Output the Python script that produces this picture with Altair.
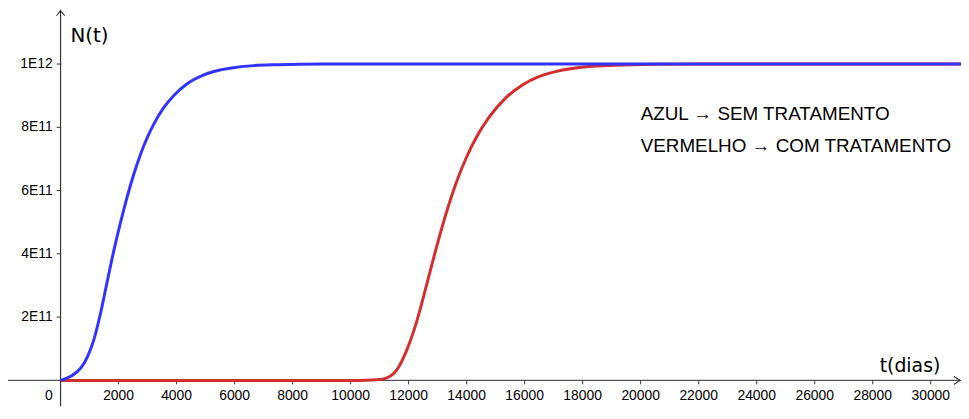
import altair as alt
import pandas as pd

# ---- data (N in units of 1e12) ----
blue_t = [0, 365, 707, 934, 1162, 1390, 1618, 1846, 2074, 2302, 2530, 2758, 2986,
          3214, 3556, 3897, 4353, 4923, 5494, 6063, 6632, 7500, 9000, 31043]
blue_n = [0, 0.0136, 0.040, 0.076, 0.133, 0.217, 0.317, 0.414, 0.502, 0.582, 0.653,
          0.715, 0.767, 0.810, 0.862, 0.900, 0.937, 0.965, 0.981, 0.990, 0.995,
          0.998, 1.0, 1.0]

red_t = [0, 10222, 10906, 11248, 11590, 11932, 12274, 12615, 12957, 13299, 13641,
         13983, 14325, 14781, 15350, 15921, 16490, 17060, 17630, 18199, 19111,
         20500, 22000, 31043]
red_n = [0, 0, 0.002, 0.008, 0.033, 0.095, 0.185, 0.300, 0.420, 0.530, 0.625, 0.703,
         0.767, 0.833, 0.893, 0.934, 0.960, 0.976, 0.986, 0.992, 0.996, 0.999, 1.0, 1.0]

x_ticks = [2000, 4000, 6000, 8000, 10000, 12000, 14000, 16000, 18000, 20000,
           22000, 24000, 26000, 28000, 30000]
x_labels = [str(v) for v in x_ticks]
y_ticks = [2e11, 4e11, 6e11, 8e11, 1e12]
y_labels = ["2E11", "4E11", "6E11", "8E11", "1E12"]

legend_lines = ["AZUL \u2192 SEM TRATAMENTO", "VERMELHO \u2192 COM TRATAMENTO"]

# ---- view window ----
W, H = 961, 400
T0, T1 = -1812, 31043
N0, N1 = -0.082e12, 1.171875e12

xs = alt.Scale(domain=[T0, T1], nice=False, zero=False)
ys = alt.Scale(domain=[N0, N1], nice=False, zero=False)

AX = "#333333"
FONT = "Liberation Sans"

blue_df = pd.DataFrame({"t": blue_t, "N": [v * 1e12 for v in blue_n]})
red_df = pd.DataFrame({"t": red_t, "N": [v * 1e12 for v in red_n]})


def X(f="t"):
    return alt.X(f"{f}:Q", scale=xs, axis=None)


def Y(f="N"):
    return alt.Y(f"{f}:Q", scale=ys, axis=None)


# axes lines
x_axis = alt.Chart(pd.DataFrame({"t": [T0], "t2": [T1], "N": [0]})).mark_rule(
    color="#555555", strokeWidth=1.2).encode(x=X(), x2="t2:Q", y=Y())
y_axis = alt.Chart(pd.DataFrame({"t": [0], "N": [N0], "N2": [N1]})).mark_rule(
    color=AX, strokeWidth=1.2).encode(x=X(), y=Y(), y2="N2:Q")

# arrow heads
arr_df = pd.DataFrame({"t": [0, 0], "N": [N1, N1]})
y_arrow = alt.layer(
    alt.Chart(arr_df).mark_rule(color=AX, strokeWidth=1, x2Offset=-4, y2Offset=6, yOffset=1)
    .encode(x=X(), y=Y(), x2="t:Q", y2="N:Q"),
    alt.Chart(arr_df).mark_rule(color=AX, strokeWidth=1, x2Offset=4, y2Offset=6, yOffset=1)
    .encode(x=X(), y=Y(), x2="t:Q", y2="N:Q"),
)
xarr_df = pd.DataFrame({"t": [T1, T1], "N": [0, 0]})
x_arrow = alt.layer(
    alt.Chart(xarr_df).mark_rule(color=AX, strokeWidth=1, xOffset=-1, x2Offset=-7, y2Offset=-4)
    .encode(x=X(), y=Y(), x2="t:Q", y2="N:Q"),
    alt.Chart(xarr_df).mark_rule(color=AX, strokeWidth=1, xOffset=-1, x2Offset=-7, y2Offset=4)
    .encode(x=X(), y=Y(), x2="t:Q", y2="N:Q"),
)

# ticks
xt_df = pd.DataFrame({"t": x_ticks, "N": [0] * len(x_ticks), "lab": x_labels})
yt_df = pd.DataFrame({"t": [0] * len(y_ticks), "N": y_ticks, "lab": y_labels})

x_tick_marks = alt.Chart(xt_df).mark_rule(color=AX, strokeWidth=1, y2Offset=4).encode(
    x=X(), y=Y(), y2="N:Q")
y_tick_marks = alt.Chart(yt_df).mark_rule(color=AX, strokeWidth=1, x2Offset=-4).encode(
    x=X(), y=Y(), x2="t:Q")

x_tick_text = alt.Chart(xt_df).mark_text(
    font=FONT, fontSize=14, color="#000000", align="center", baseline="alphabetic", dy=20
).encode(x=X(), y=Y(), text="lab:N")
y_tick_text = alt.Chart(yt_df).mark_text(
    font=FONT, fontSize=14, color="#000000", align="right", baseline="middle", dx=-8
).encode(x=X(), y=Y(), text="lab:N")
zero_text = alt.Chart(pd.DataFrame({"t": [0], "N": [0], "lab": ["0"]})).mark_text(
    font=FONT, fontSize=14, color="#000000", align="right", baseline="alphabetic", dx=-8, dy=20
).encode(x=X(), y=Y(), text="lab:N")

# curves
red_line = alt.Chart(red_df).mark_line(color="#d32f2f", strokeWidth=3, interpolate="monotone").encode(
    x=X(), y=Y())
blue_line = alt.Chart(blue_df).mark_line(color="#3333ff", strokeWidth=3, interpolate="monotone").encode(
    x=X(), y=Y())

# titles
n_title = alt.Chart(pd.DataFrame({"lab": ["N(t)"]})).mark_text(
    font="DejaVu Sans", fontSize=20, color="#000000", align="left", baseline="alphabetic"
).encode(x=alt.value(63), y=alt.value(33), text="lab:N")
t_title = alt.Chart(pd.DataFrame({"lab": ["t(dias)"]})).mark_text(
    font="DejaVu Sans", fontSize=19, color="#000000", align="left", baseline="alphabetic"
).encode(x=alt.value(879), y=alt.value(365), text="lab:N")

legend_a = alt.Chart(pd.DataFrame({"lab": [legend_lines[0]]})).mark_text(
    font=FONT, fontSize=19, color="#000000", align="left", baseline="alphabetic"
).encode(x=alt.value(638), y=alt.value(111), text="lab:N")
legend_b = alt.Chart(pd.DataFrame({"lab": [legend_lines[1]]})).mark_text(
    font=FONT, fontSize=19, color="#000000", align="left", baseline="alphabetic"
).encode(x=alt.value(638), y=alt.value(144), text="lab:N")

chart = alt.layer(
    x_axis, y_axis, y_arrow, x_arrow, x_tick_marks, y_tick_marks,
    x_tick_text, y_tick_text, zero_text,
    red_line, blue_line,
    n_title, t_title, legend_a, legend_b,
).properties(
    width=W, height=H, padding=0,
    autosize=alt.AutoSizeParams(type="none"),
    background="white",
).configure_view(stroke=None)

chart.save("out.html", embed_options={"renderer": "svg", "actions": False})
